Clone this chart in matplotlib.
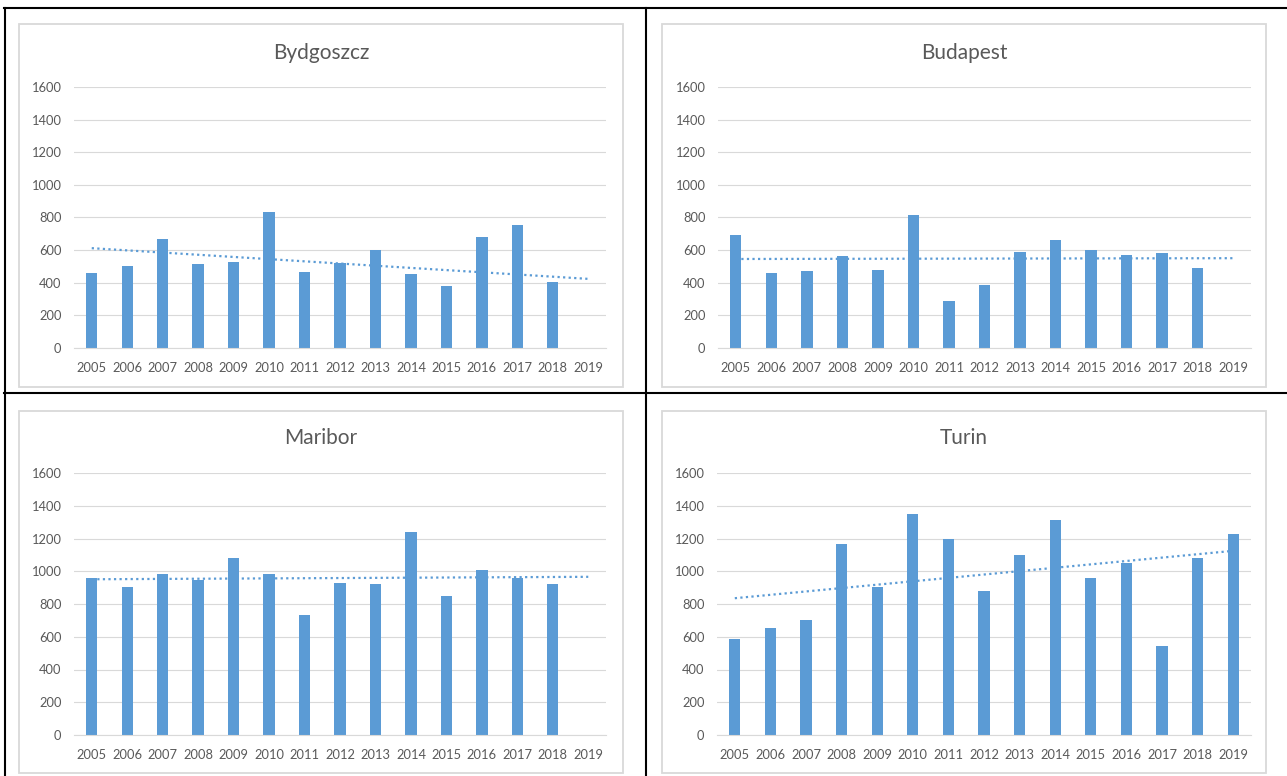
import numpy as np
import matplotlib.pyplot as plt
from matplotlib.lines import Line2D
from matplotlib.patches import Rectangle

plt.rcParams['font.family'] = ['Lato', 'DejaVu Sans']

years = [str(y) for y in range(2005, 2020)]
nan = float('nan')

# 2019 is a real zero for Bydgoszcz (the trend line goes through it), blank elsewhere
bydgoszcz = [458, 503, 667, 513, 528, 835, 468, 522, 601, 454, 380, 681, 751, 407, 0]
budapest = [694, 462, 473, 567, 479, 818, 291, 385, 591, 665, 601, 571, 581, 493, nan]
maribor = [958, 905, 982, 948, 1078, 982, 732, 929, 923, 1239, 846, 1007, 960, 923, nan]
turin = [587, 652, 701, 1166, 905, 1347, 1197, 878, 1097, 1311, 958, 1052, 542, 1078, 1229]

titles = ['Bydgoszcz', 'Budapest', 'Maribor', 'Turin']
series = [bydgoszcz, budapest, maribor, turin]

W, H = 1287, 776
BLUE = '#5b9bd5'
TXT = '#595959'
GRID = '#d9d9d9'

fig = plt.figure(figsize=(W / 100, H / 100), dpi=100)

# plot areas (l, r, t, b) and chart boxes (l, t, r, b), in pixels
plot_px = [(74, 606, 87, 348), (718, 1251, 87, 348),
           (74, 606, 473, 735), (717, 1251, 473, 735)]
box_px = [(19, 24, 623, 387), (662, 24, 1266, 387),
          (19, 411, 623, 773), (662, 411, 1266, 773)]
title_y = [53, 53, 438, 438]

for i in range(4):
    bl, bt, br, bb = box_px[i]
    fig.add_artist(Rectangle((bl / W, 1 - bb / H), (br - bl) / W, (bb - bt) / H,
                             transform=fig.transFigure, fill=False,
                             edgecolor=GRID, lw=1.3))
    fig.text((bl + br) / 2 / W, 1 - title_y[i] / H, titles[i], ha='center',
             va='center', fontsize=15, color=TXT)

    l, r, t, b = plot_px[i]
    ax = fig.add_axes([l / W, 1 - b / H, (r - l) / W, (b - t) / H])
    vals = np.array(series[i], dtype=float)
    x = np.arange(len(years))
    ax.bar(x, vals, width=0.32, color=BLUE, zorder=2)

    # linear trend over the filled cells, drawn across all categories
    ok = ~np.isnan(vals)
    k, c = np.polyfit(x[ok], vals[ok], 1)
    ax.plot([0, 14], [c, c + 14 * k], ls=(0, (1, 1.5)), color=BLUE, lw=1.6, zorder=3)

    ax.set_xlim(-0.5, 14.5)
    ax.set_ylim(0, 1600)
    ax.set_yticks(range(0, 1601, 200))
    ax.set_xticks(x)
    ax.set_xticklabels(years)
    ax.grid(axis='y', color=GRID, lw=0.8, zorder=0)
    for s in ['top', 'right', 'left']:
        ax.spines[s].set_visible(False)
    ax.spines['bottom'].set_color(GRID)
    ax.spines['bottom'].set_linewidth(0.8)
    ax.tick_params(length=0, labelsize=9.3, labelcolor=TXT)
    ax.tick_params(axis='x', pad=10)
    ax.tick_params(axis='y', pad=9)

# black table lines around the panels
lw = 1.5
fig.add_artist(Line2D([4 / W, 1], [1 - 8 / H, 1 - 8 / H], color='black', lw=lw))
fig.add_artist(Line2D([4 / W, 1], [1 - 393 / H, 1 - 393 / H], color='black', lw=lw))
fig.add_artist(Line2D([5 / W, 5 / W], [0, 1 - 8 / H], color='black', lw=lw))
fig.add_artist(Line2D([646 / W, 646 / W], [0, 1 - 8 / H], color='black', lw=lw))

plt.savefig('out.png', dpi=100)
